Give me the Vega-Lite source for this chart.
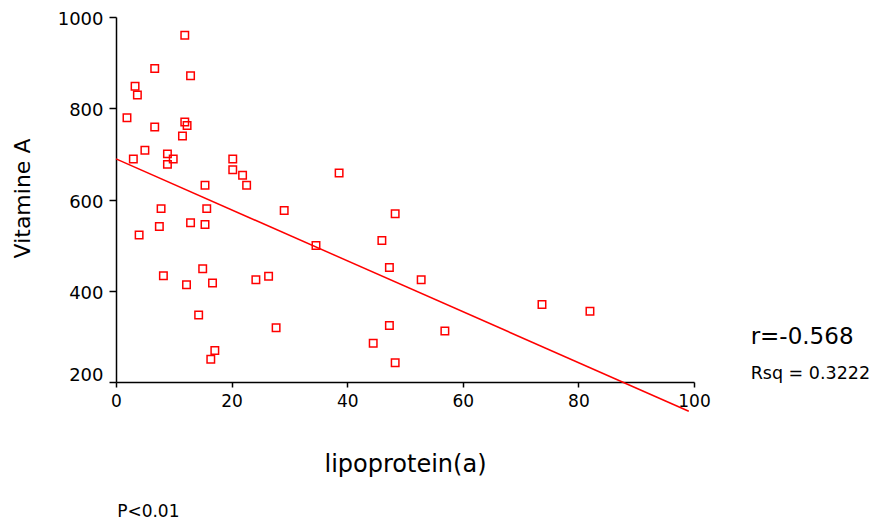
{
  "$schema": "https://vega.github.io/schema/vega-lite/v6.json",
  "autosize": "none",
  "width": 578,
  "height": 365,
  "padding": {"left": 116, "top": 17, "right": 186, "bottom": 139},
  "background": "white",
  "config": {
    "font": "DejaVu Sans",
    "view": {"stroke": null},
    "axis": {"grid": false, "domainColor": "black", "tickColor": "black", "labelColor": "black", "titleColor": "black", "domainWidth": 1.5, "tickWidth": 1.5, "titleFontWeight": "normal"}
  },
  "datasets": {
    "points": [
      {"lpa": 11.9, "vita": 960}, {"lpa": 6.7, "vita": 887}, {"lpa": 12.9, "vita": 871}, {"lpa": 3.3, "vita": 848},
      {"lpa": 3.7, "vita": 829}, {"lpa": 1.9, "vita": 779}, {"lpa": 6.7, "vita": 759}, {"lpa": 11.9, "vita": 770},
      {"lpa": 12.3, "vita": 762}, {"lpa": 11.5, "vita": 739}, {"lpa": 5.0, "vita": 708}, {"lpa": 3.0, "vita": 689},
      {"lpa": 8.9, "vita": 700}, {"lpa": 8.9, "vita": 677}, {"lpa": 9.9, "vita": 689}, {"lpa": 20.2, "vita": 689},
      {"lpa": 20.2, "vita": 665}, {"lpa": 21.9, "vita": 653}, {"lpa": 22.6, "vita": 631}, {"lpa": 15.4, "vita": 631},
      {"lpa": 38.6, "vita": 658}, {"lpa": 7.8, "vita": 580}, {"lpa": 15.7, "vita": 580}, {"lpa": 12.9, "vita": 549},
      {"lpa": 15.4, "vita": 545}, {"lpa": 7.5, "vita": 541}, {"lpa": 4.0, "vita": 522}, {"lpa": 29.1, "vita": 576},
      {"lpa": 34.6, "vita": 499}, {"lpa": 48.3, "vita": 569}, {"lpa": 46.0, "vita": 510}, {"lpa": 47.3, "vita": 451},
      {"lpa": 8.2, "vita": 433}, {"lpa": 15.0, "vita": 448}, {"lpa": 12.2, "vita": 413}, {"lpa": 16.7, "vita": 417},
      {"lpa": 24.2, "vita": 424}, {"lpa": 26.4, "vita": 432}, {"lpa": 14.3, "vita": 347}, {"lpa": 27.7, "vita": 319},
      {"lpa": 17.1, "vita": 269}, {"lpa": 16.4, "vita": 250}, {"lpa": 47.3, "vita": 324}, {"lpa": 44.5, "vita": 285},
      {"lpa": 48.3, "vita": 242}, {"lpa": 52.8, "vita": 424}, {"lpa": 73.7, "vita": 370}, {"lpa": 82.0, "vita": 355},
      {"lpa": 56.9, "vita": 312}
    ],
    "fit": [{"lpa": 0, "vita": 689}, {"lpa": 99.1, "vita": 136}]
  },
  "layer": [
    {
      "data": {"name": "fit"},
      "mark": {"type": "line", "color": "#ff0000", "strokeWidth": 1.5},
      "encoding": {
        "x": {"field": "lpa", "type": "quantitative", "scale": {"domain": [0, 100], "nice": false, "zero": false},
          "axis": {"values": [0, 20, 40, 60, 80, 100], "format": "d", "title": "lipoprotein(a)", "labelFontSize": 17, "tickSize": 5, "labelPadding": 6,
            "titleFontSize": 24, "titleX": 289, "titleY": 89, "titleBaseline": "alphabetic", "titleAlign": "center", "labelFlush": false}},
        "y": {"field": "vita", "type": "quantitative", "scale": {"domain": [200, 1000], "nice": false, "zero": false},
          "axis": {"values": [200, 400, 600, 800, 1000], "format": "d", "title": "Vitamine A", "labelFontSize": 18, "tickSize": 7, "labelPadding": 6,
            "labelOffset": 2.5, "labelBaseline": {"expr": "datum.value == 200 ? 'bottom' : 'middle'"},
            "titleFontSize": 22, "titleAngle": -90, "titleX": -94, "titleY": 181, "titleBaseline": "middle", "titleAlign": "center"}}
      }
    },
    {
      "data": {"name": "points"},
      "mark": {"type": "point", "shape": "square", "filled": false, "color": "#ff0000", "size": 56, "strokeWidth": 1.5, "opacity": 1},
      "encoding": {
        "x": {"field": "lpa", "type": "quantitative"},
        "y": {"field": "vita", "type": "quantitative"}
      }
    },
    {
      "data": {"values": [{"lpa": 109.8, "vita": 283, "label": "r=-0.568"}]},
      "mark": {"type": "text", "fontSize": 23, "align": "left", "baseline": "alphabetic", "color": "black"},
      "encoding": {"x": {"field": "lpa", "type": "quantitative"}, "y": {"field": "vita", "type": "quantitative"}, "text": {"field": "label"}}
    },
    {
      "data": {"values": [{"lpa": 109.8, "vita": 206, "label": "Rsq = 0.3222"}]},
      "mark": {"type": "text", "fontSize": 17.5, "align": "left", "baseline": "alphabetic", "color": "black"},
      "encoding": {"x": {"field": "lpa", "type": "quantitative"}, "y": {"field": "vita", "type": "quantitative"}, "text": {"field": "label"}}
    },
    {
      "data": {"values": [{"lpa": 0.2, "vita": -86, "label": "P<0.01"}]},
      "mark": {"type": "text", "fontSize": 17, "align": "left", "baseline": "middle", "color": "black"},
      "encoding": {"x": {"field": "lpa", "type": "quantitative"}, "y": {"field": "vita", "type": "quantitative"}, "text": {"field": "label"}}
    }
  ]
}
